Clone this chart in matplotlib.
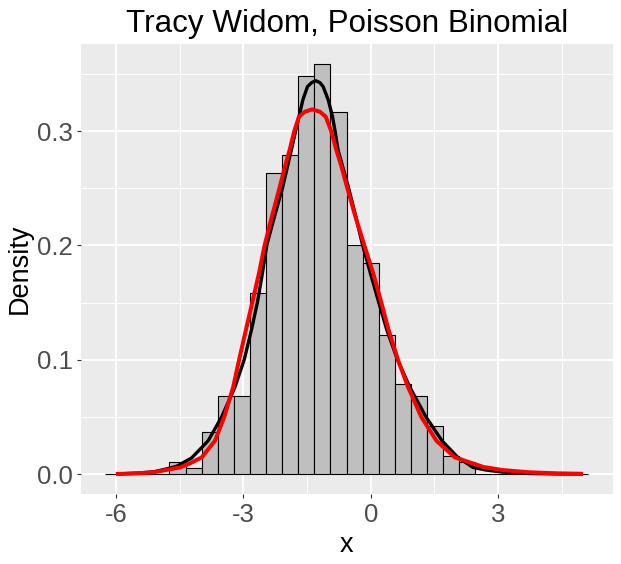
import numpy as np
import matplotlib
matplotlib.use("Agg")
import matplotlib.pyplot as plt
from matplotlib.ticker import FixedLocator

# ---------------- data ----------------
scale_lo, scale_hi = -6.0, 5.0          # x range covered by the curves
n_bins = 30
bin_counts = [0, 0, 0, 0, 2, 1, 7, 13, 13, 30, 50, 53, 66, 68, 60,
              38, 35, 23, 15, 13, 8, 3, 2, 0, 0, 0, 0, 0, 0, 0]

black_x = [-6.0, -5.5, -5.1, -4.73, -4.57, -4.22, -3.83, -3.51, -3.20, -2.98,
           -2.81, -2.67, -2.55, -2.45, -2.27, -2.08, -1.87, -1.77, -1.69, -1.60,
           -1.49, -1.39, -1.29, -1.20, -1.12, -1.00, -0.90, -0.84, -0.77, -0.52,
           -0.35, -0.19, -0.01, 0.19, 0.38, 0.63, 0.92, 1.30, 1.68, 2.05,
           2.41, 2.72, 3.10, 3.74, 4.40, 5.0]
black_y = [0.0, 0.0008, 0.0020, 0.0052, 0.0068, 0.0140, 0.029, 0.050, 0.076, 0.100,
           0.126, 0.150, 0.176, 0.200, 0.225, 0.250, 0.2835, 0.300, 0.3126, 0.3272,
           0.3389, 0.3425, 0.344, 0.3425, 0.3389, 0.3272, 0.3126, 0.300, 0.2835, 0.250,
           0.225, 0.200, 0.176, 0.150, 0.126, 0.100, 0.076, 0.050, 0.029, 0.0146,
           0.0058, 0.0035, 0.0017, 0.0005, 0.0001, 0.0]

red_x = [-6.0, -5.5, -5.12, -4.49, -4.26, -3.98, -3.67, -3.45, -3.24, -3.10,
         -2.94, -2.79, -2.63, -2.50, -2.33, -2.15, -2.02, -1.91, -1.80, -1.69,
         -1.55, -1.38, -1.20, -1.06, -0.93, -0.81, -0.69, -0.55, -0.36, -0.15,
         0.055, 0.25, 0.42, 0.64, 0.88, 1.19, 1.55, 1.98, 2.65, 3.10,
         3.74, 4.40, 5.0]
red_y = [0.0, 0.0006, 0.0015, 0.0058, 0.0093, 0.0146, 0.029, 0.050, 0.076, 0.100,
         0.126, 0.150, 0.176, 0.200, 0.225, 0.250, 0.269, 0.2835, 0.300, 0.3126,
         0.317, 0.319, 0.317, 0.3126, 0.300, 0.2835, 0.269, 0.250, 0.225, 0.200,
         0.176, 0.150, 0.126, 0.100, 0.076, 0.050, 0.029, 0.0146, 0.0062, 0.0035,
         0.0015, 0.0006, 0.0002]

x_ticks = [-6, -3, 0, 3]
x_tick_labels = ["-6", "-3", "0", "3"]
x_minor = [-4.5, -1.5, 1.5, 4.5]
y_ticks = [0.0, 0.1, 0.2, 0.3]
y_tick_labels = ["0.0", "0.1", "0.2", "0.3"]
y_minor = [0.05, 0.15, 0.25, 0.35]

title = "Tracy Widom, Poisson Binomial"
x_label = "x"
y_label = "Density"

# ---------------- figure ----------------
W, H = 621, 564
fig = plt.figure(figsize=(W / 100, H / 100), dpi=100)
fig.patch.set_facecolor("white")
plt.rcParams["font.family"] = ["Liberation Sans", "DejaVu Sans"]

L, R, T, B = 81, 613, 44, 493.7
ax = fig.add_axes([L / W, (H - B) / H, (R - L) / W, (B - T) / H])
ax.set_facecolor("#EBEBEB")

# histogram bins (ggplot-style bins=30 over the scale range)
width = (scale_hi - scale_lo) / (n_bins - 1)
boundary = width / 2
start = np.floor((scale_lo - boundary) / width) * width + boundary
edges = start + width * np.arange(n_bins + 1)
centers = (edges[:-1] + edges[1:]) / 2

ax.hist(centers, bins=edges, weights=bin_counts, density=True,
        color="#BFBFBF", edgecolor="black", linewidth=0.8, zorder=2)

ax.plot(black_x, black_y, color="black", linewidth=2.4, zorder=3,
        solid_joinstyle="round", solid_capstyle="butt")
ax.plot(red_x, red_y, color="#FF0000", linewidth=2.9, zorder=4,
        solid_joinstyle="round", solid_capstyle="butt")

# limits
ax.set_xlim(-6.824, 5.706)
ax.set_ylim(-0.0172, 0.3762)

# grid
ax.xaxis.set_major_locator(FixedLocator(x_ticks))
ax.yaxis.set_major_locator(FixedLocator(y_ticks))
ax.xaxis.set_minor_locator(FixedLocator(x_minor))
ax.yaxis.set_minor_locator(FixedLocator(y_minor))
ax.set_xticklabels(x_tick_labels)
ax.set_yticklabels(y_tick_labels)
ax.grid(which="major", color="white", linewidth=1.4, zorder=0)
ax.grid(which="minor", color="white", linewidth=0.7, zorder=0)
ax.set_axisbelow(True)

for s in ax.spines.values():
    s.set_visible(False)

ax.tick_params(which="major", length=3.2, width=0.8, color="#333333",
               labelsize=18.5, labelcolor="#4D4D4D", pad=2.5)
ax.tick_params(which="minor", length=0)
ax.tick_params(axis="x", pad=3.5)

fig.text((L + R) / 2 / W, 1 - 31.7 / H, title, ha="center", va="baseline",
         fontsize=22.6, color="black")
fig.text((L + R) / 2 / W, 1 - 551.7 / H, x_label, ha="center", va="baseline",
         fontsize=19.5, color="black")
fig.text(19.5 / W, 1 - (T + B) / 2 / H, y_label, ha="center", va="center",
         rotation=90, fontsize=19.5, color="black")

fig.savefig("out.png", dpi=100)
